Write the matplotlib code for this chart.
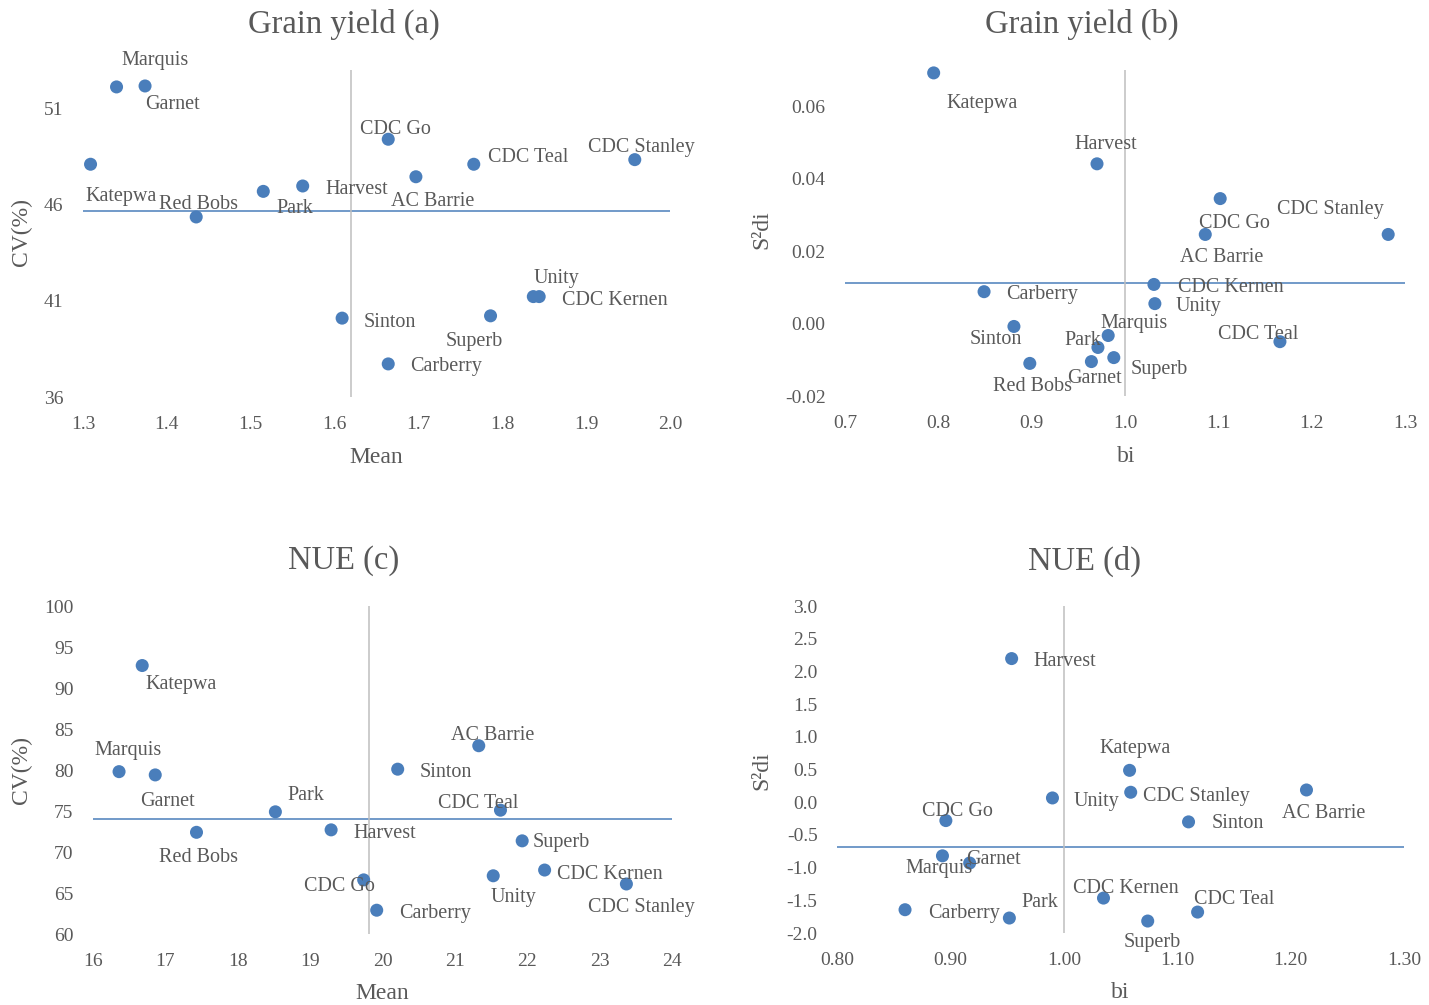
import numpy as np
import matplotlib
matplotlib.use('Agg')
import matplotlib.pyplot as plt
from matplotlib.ticker import FixedLocator, FormatStrFormatter

plt.rcParams['font.family'] = ['Liberation Serif', 'DejaVu Serif']
plt.rcParams['axes.unicode_minus'] = False

cultivars = ['Marquis', 'Garnet', 'Katepwa', 'Red Bobs', 'Park', 'Harvest', 'CDC Go', 'AC Barrie',
             'CDC Teal', 'CDC Stanley', 'Sinton', 'Superb', 'Unity', 'CDC Kernen', 'Carberry']

# Grain yield (a): mean vs CV(%)
gy_mean = [1.340, 1.374, 1.309, 1.435, 1.515, 1.562, 1.664, 1.697,
           1.766, 1.958, 1.609, 1.786, 1.837, 1.844, 1.664]
gy_cv = [52.12, 52.17, 48.10, 45.36, 46.69, 46.97, 49.40, 47.45,
         48.10, 48.34, 40.10, 40.22, 41.22, 41.22, 37.72]

# Grain yield (b): bi vs S2di
gy_bi = [0.982, 0.964, 0.795, 0.898, 0.971, 0.970, 1.102, 1.086,
         1.166, 1.282, 0.881, 0.988, 1.032, 1.031, 0.849]
gy_s2di = [-0.0033, -0.0105, 0.0692, -0.0110, -0.0066, 0.0441, 0.0345, 0.0246,
           -0.0050, 0.0246, -0.0008, -0.0094, 0.0055, 0.0108, 0.0088]

# NUE (c): mean vs CV(%)
nue_mean = [16.36, 16.86, 16.68, 17.43, 18.52, 19.29, 19.74, 21.33,
            21.63, 23.37, 20.21, 21.93, 21.53, 22.24, 19.92]
nue_cv = [79.8, 79.4, 92.74, 72.4, 74.9, 72.7, 66.6, 82.96,
          75.1, 66.1, 80.1, 71.36, 67.1, 67.8, 62.9]

# NUE (d): bi vs S2di (Red Bobs not shown)
nue_bi = [0.893, 0.917, 1.058, np.nan, 0.952, 0.954, 0.896, 1.214,
          1.118, 1.059, 1.110, 1.074, 0.990, 1.035, 0.860]
nue_s2di = [-0.82, -0.93, 0.487, np.nan, -1.771, 2.196, -0.281, 0.187,
            -1.680, 0.152, -0.301, -1.817, 0.065, -1.466, -1.644]

# reference lines (horizontal, vertical)
ref_lines = {'a': (45.66, 1.62), 'b': (0.0113, 1.0), 'c': (74.04, 19.81), 'd': (-0.678, 1.0)}

# label offsets in pixels (right, down) from each point
offsets_a = {'Marquis': (39, -27), 'Garnet': (27, 18), 'Katepwa': (31, 31), 'Red Bobs': (2, -13),
             'Park': (32, 16), 'Harvest': (54, 3), 'CDC Go': (7, -11), 'AC Barrie': (17, 24),
             'CDC Teal': (54, -8), 'CDC Stanley': (7, -13), 'Sinton': (48, 3), 'Superb': (-16, 25),
             'Unity': (23, -19), 'CDC Kernen': (76, 3), 'Carberry': (58, 2)}
offsets_b = {'Marquis': (26, -13), 'Garnet': (3, 16), 'Katepwa': (48, 30), 'Red Bobs': (3, 22),
             'Park': (-15, -8), 'Harvest': (9, -20), 'CDC Go': (14, 24), 'AC Barrie': (16, 22),
             'CDC Teal': (-22, -8), 'CDC Stanley': (-58, -26), 'Sinton': (-18, 12), 'Superb': (45, 11),
             'Unity': (44, 2), 'CDC Kernen': (77, 2), 'Carberry': (58, 2)}
offsets_c = {'Marquis': (9, -22), 'Garnet': (12, 26), 'Katepwa': (39, 18), 'Red Bobs': (2, 24),
             'Park': (30, -17), 'Harvest': (54, 3), 'CDC Go': (-24, 6), 'AC Barrie': (14, -11),
             'CDC Teal': (-22, -8), 'CDC Stanley': (15, 23), 'Sinton': (48, 2), 'Superb': (39, 1),
             'Unity': (20, 21), 'CDC Kernen': (65, 3), 'Carberry': (58, 2)}
offsets_d = {'Marquis': (-3, 12), 'Garnet': (24, -5), 'Katepwa': (5, -23), 'Red Bobs': (0, 0),
             'Park': (30, -17), 'Harvest': (53, 2), 'CDC Go': (12, -10), 'AC Barrie': (17, 23),
             'CDC Teal': (37, -14), 'CDC Stanley': (66, 3), 'Sinton': (49, 1), 'Superb': (5, 20),
             'Unity': (44, 3), 'CDC Kernen': (22, -11), 'Carberry': (59, 3)}

TEXT = '#595959'
DOT = '#4A7EBB'
W, H = 1429, 1005


def px_rect(left, top, right, bottom):
    """ Axes rect from pixel box """
    return [left / W, 1 - bottom / H, (right - left) / W, (bottom - top) / H]


def scatter_panel(ax, x, y, offsets, key, xticks, yticks, xfmt, yfmt, xlim, ylim,
                  xlabel, ylabel, xlab_pos, ylab_pos):
    hline, vline = ref_lines[key]
    ax.axhline(hline, color=DOT, lw=1.1, zorder=1)
    ax.axvline(vline, color='#BFBFBF', lw=1.1, zorder=1)
    ax.scatter(x, y, s=88, color=DOT, edgecolor='none', zorder=3, clip_on=False)
    for name, xi, yi in zip(cultivars, x, y):
        if np.isnan(xi):
            continue
        dx, dy = offsets[name]
        ax.annotate(name, (xi, yi), xytext=(dx, -dy - 1), textcoords='offset pixels',
                    ha='center', va='center', fontsize=14.5, color=TEXT, zorder=4)
    ax.set_xlim(*xlim)
    ax.set_ylim(*ylim)
    ax.xaxis.set_major_locator(FixedLocator(xticks))
    ax.yaxis.set_major_locator(FixedLocator(yticks))
    ax.xaxis.set_major_formatter(FormatStrFormatter(xfmt))
    ax.yaxis.set_major_formatter(FormatStrFormatter(yfmt))
    ax.tick_params(axis='both', length=0, labelsize=14, labelcolor=TEXT)
    ax.tick_params(axis='x', pad=13.5)
    ax.tick_params(axis='y', pad=14)
    for sp in ax.spines.values():
        sp.set_visible(False)
    ax.set_facecolor('none')
    ax.text(xlab_pos[0], xlab_pos[1], xlabel, transform=ax.transAxes, ha='center', va='center',
            fontsize=17, color=TEXT)
    ax.text(ylab_pos[0], ylab_pos[1], ylabel, transform=ax.transAxes, ha='center', va='center',
            rotation=90, fontsize=17, color=TEXT)


def main():
    fig = plt.figure(figsize=(W / 100, H / 100), dpi=100)

    ax_a = fig.add_axes(px_rect(83, 70, 670, 397))
    scatter_panel(ax_a, gy_mean, gy_cv, offsets_a, 'a',
                  np.arange(1.3, 2.01, 0.1), [36, 41, 46, 51], '%.1f', '%d',
                  (1.3, 2.0), (36, 53), 'Mean', 'CV(%)', (0.499, -0.186), (-0.104, 0.505))

    ax_b = fig.add_axes(px_rect(845, 70, 1405, 396))
    scatter_panel(ax_b, gy_bi, gy_s2di, offsets_b, 'b',
                  np.arange(0.7, 1.31, 0.1), np.arange(-0.02, 0.061, 0.02), '%.1f', '%.2f',
                  (0.7, 1.3), (-0.02, 0.07), 'bi', 'S²di', (0.502, -0.186), (-0.148, 0.509))

    ax_c = fig.add_axes(px_rect(93, 606, 672, 934))
    scatter_panel(ax_c, nue_mean, nue_cv, offsets_c, 'c',
                  np.arange(16, 25, 1), np.arange(60, 101, 5), '%d', '%d',
                  (16, 24), (60, 100), 'Mean', 'CV(%)', (0.499, -0.180), (-0.123, 0.5))

    ax_d = fig.add_axes(px_rect(837, 606, 1404, 933))
    scatter_panel(ax_d, nue_bi, nue_s2di, offsets_d, 'd',
                  np.arange(0.8, 1.31, 0.1), np.arange(-2.0, 3.01, 0.5), '%.2f', '%.1f',
                  (0.8, 1.3), (-2.0, 3.0), 'bi', 'S²di', (0.499, -0.183), (-0.132, 0.498))

    titles = [('Grain yield (a)', 344, 24), ('Grain yield (b)', 1082, 24),
              ('NUE (c)', 344, 561), ('NUE (d)', 1084, 561)]
    for txt, cx, cy in titles:
        fig.text(cx / W, 1 - cy / H, txt, ha='center', va='center', fontsize=23.5, color=TEXT)

    fig.savefig('out.png', dpi=100, facecolor='white')


if __name__ == "__main__":
    main()
